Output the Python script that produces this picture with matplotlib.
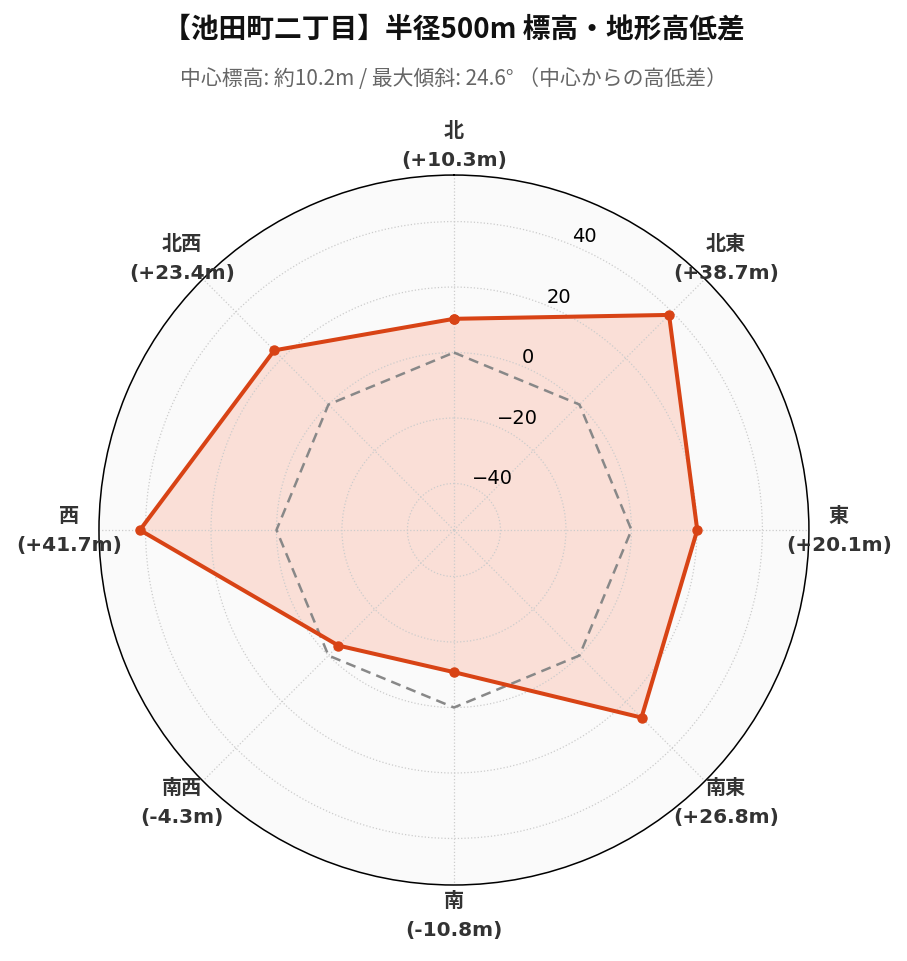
import numpy as np
import matplotlib.pyplot as plt

plt.rcParams['font.family'] = ['Noto Sans CJK JP', 'DejaVu Sans']

directions = ["北", "北東", "東", "南東", "南", "南西", "西", "北西"]
diffs = [10.3, 38.7, 20.1, 26.8, -10.8, -4.3, 41.7, 23.4]
baseline = [0, 0, 0, 0, 0, 0, 0, 0]
r_ticks = [-40, -20, 0, 20, 40]

title = "【池田町二丁目】半径500m 標高・地形高低差"
subtitle = "中心標高: 約10.2m / 最大傾斜: 24.6° （中心からの高低差）"

LINE = "#d84315"

n = len(directions)
angles = np.linspace(0, 2 * np.pi, n, endpoint=False)
ang_c = np.append(angles, angles[0])
vals_c = np.append(diffs, diffs[0])
base_c = np.append(baseline, baseline[0])

rmax = max(abs(v) for v in diffs) * 1.3

fig = plt.figure(figsize=(9.07, 9.62), dpi=100)
ax = fig.add_axes([0.109, 0.079, 0.783, 0.738], projection="polar")
ax.set_theta_zero_location("N")
ax.set_theta_direction(-1)
ax.set_facecolor("#fafafa")
ax.set_ylim(-rmax, rmax)

ax.plot(ang_c, base_c, color="#888888", lw=1.8, ls=(0, (4, 2.5)), zorder=2)
ax.fill(ang_c, vals_c, color="#ff5722", alpha=0.16, lw=0, zorder=1)
ax.plot(ang_c, vals_c, color=LINE, lw=2.9, marker="o", ms=6.5, zorder=3)

ax.set_xticks(angles)
ax.set_xticklabels([])
ax.set_yticks(r_ticks)
ax.set_yticklabels([f"{t}".replace("-", "\u2212") for t in r_ticks],
                   fontsize=14, family="DejaVu Sans")
ax.set_rlabel_position(22.5)
ax.grid(True, color="#cccccc", ls=":", lw=0.9)
ax.spines["polar"].set_color("black")
ax.spines["polar"].set_linewidth(1.1)

lab_r = -rmax + 2 * rmax * 385 / 355
for a, name, v in zip(angles, directions, diffs):
    ax.text(a, lab_r, f"{name}\n({v:+.1f}m)", ha="center", va="center",
            fontsize=14.5, fontweight="bold", color="#333333",
            family=["DejaVu Sans", "Noto Sans CJK JP"],
            linespacing=1.65, clip_on=False)

fig.text(0.5, 0.969, title, ha="center", va="center", fontsize=20,
         fontweight="bold", color="#111111")
fig.text(0.5, 0.918, subtitle, ha="center", va="center", fontsize=15,
         color="#666666")

fig.savefig("out.png", dpi=100)
